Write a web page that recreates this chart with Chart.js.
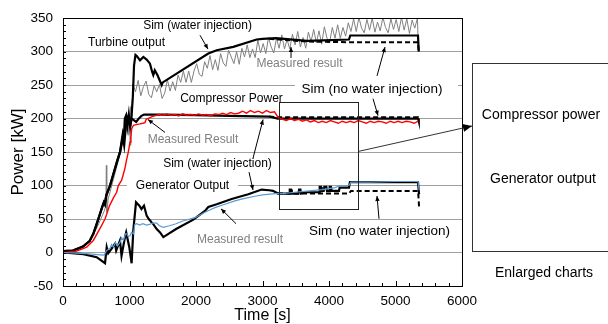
<!DOCTYPE html>
<html>
<head>
<meta charset="utf-8">
<script src="https://cdn.jsdelivr.net/npm/chart.js@4.4.1/dist/chart.umd.min.js"></script>
<style>
html, body { margin: 0; padding: 0; background: #fff; }
#wrap { width: 608px; height: 324px; }
</style>
</head>
<body>
<div id="wrap"><canvas id="power" width="608" height="324"></canvas></div>
<script>
// axis ticks
const xTicks = [0, 1000, 2000, 3000, 4000, 5000, 6000];
const yTicks = [-50, 0, 50, 100, 150, 200, 250, 300, 350];

// turbine output [time s, power kW]
const turbineSimWater = [[0,2],[150,3],[300,9],[400,17],[456,28],[531,50],[590,68],[615,75],[630,72],[650,85],[707,100],[760,118],[810,135],[857,150],[880,162],[900,172],[920,160],[940,182],[960,203],[985,198],[1010,190],[1030,203],[1050,232],[1068,279],[1090,295],[1113,293],[1158,287],[1208,292],[1258,288],[1308,282],[1340,270],[1358,265],[1380,272],[1420,265],[1484,250],[1500,254],[2185,297],[2311,302],[2561,307],[2912,318],[3000,319],[3200,320],[3670,316],[4300,318],[4320,324],[5338,324],[5350,300]];
const turbineSimDry = [[3100,319],[3250,318],[3670,315],[4300,314],[5338,314],[5350,298]];
const turbineMeasStart = [[0,0],[100,1],[200,3],[300,8],[400,18],[500,35],[560,48],[620,62],[645,70],[652,130],[658,60],[680,80],[720,95],[760,110],[800,125],[840,140],[870,150],[900,165],[930,175],[960,185],[980,175],[1000,200],[1010,160],[1020,218],[1035,195]];
// noisy part, sampled every 40 s from 1050 s
const turbineMeasFrom = 1050, turbineMeasStep = 40;
const turbineMeasNoisy = [
  252,240,257,234,248,256,236,231,249,240,
  251,230,238,258,241,255,242,265,254,271,
  254,271,254,271,282,266,263,285,275,294,
  273,288,272,297,283,278,302,292,282,300,
  281,305,292,310,291,304,291,317,298,312,
  297,321,307,298,320,305,325,304,318,304,
  326,310,330,307,321,305,329,315,333,313,
  331,311,337,320,314,336,320,340,320,336,
  323,343,330,349,330,351,335,328,348,332,
  350,329,344,331,351,336,328,349,333,348,
  330,351,332,349,327,347,335,350
];
const turbineMeasEnd = [[5345,300]];

// compressor power
const compSimWater = [[0,2],[150,3],[300,9],[400,17],[456,28],[531,50],[590,68],[615,75],[630,72],[650,85],[707,100],[760,118],[810,135],[857,150],[880,165],[900,178],[915,172],[930,200],[950,205],[970,190],[990,206],[1010,188],[1030,200],[1060,198],[1100,195],[1140,200],[1180,204],[1220,206],[1500,206],[2000,205],[2500,204],[3100,203],[3230,200],[5340,200],[5350,196]];
const compSimDry = [[3100,203],[3250,202],[5340,202],[5350,199]];
const compMeasStart = [[0,0],[55,0],[206,2],[356,8],[456,18],[557,36],[632,50],[657,57],[700,70],[760,82],[807,90],[832,100],[882,108],[930,125],[957,139],[982,150],[1008,165],[1020,172],[1033,185],[1060,190],[1100,191],[1158,192],[1200,193],[1233,194],[1250,199],[1300,201],[1340,203]];
// noisy part, sampled every 60 s from 1380 s
const compMeasFrom = 1380, compMeasStep = 60;
const compMeasNoisy = [
  204,206,205,207,205,206,204,207,205,206,
  205,207,205,206,204,207,206,208,206,209,
  207,208,211,208,212,209,211,208,212,209,
  210,201,199,197,200,197,199,196,198,195,
  197,194,196,194,197,195,193,196,194,196,
  194,197,195,193,196,194,196,195,193,196,
  194,196,194,196,195,193,196
];

// generator output
const genSimWater = [[0,0],[306,-2.5],[506,-7],[632,-16],[657,8],[680,-1],[732,6],[782,13],[800,3],[857,18],[880,-5],[932,23],[950,30],[997,8],[1032,-16],[1057,33],[1098,75],[1148,70],[1180,65],[1218,70],[1258,55],[1290,50],[1333,45],[1360,42],[1409,35],[1459,30],[1509,23],[1700,35],[1960,49],[2135,62],[2185,68],[2311,72],[2536,80],[2786,87],[2987,94],[3100,93],[3158,92],[3233,88],[3400,88],[3410,94],[3430,94],[3440,88],[3540,88],[3550,94],[3570,94],[3580,88],[3650,90],[3850,90],[3860,98],[3880,98],[3890,92],[3920,92],[3930,98],[3960,98],[3970,92],[4000,92],[4010,98],[4030,98],[4040,92],[4150,92],[4160,97],[4300,97],[4315,105],[5338,105],[5355,87]];
const genSimDry = [[3233,88],[4300,88],[4330,92],[5340,92],[5355,67]];
const genMeas = [[0,0],[200,-1],[400,-2],[556,-3.5],[620,-4],[650,2],[680,5],[707,6],[730,12],[757,8],[790,15],[820,10],[857,15],[880,22],[910,18],[940,28],[957,28],[980,24],[1008,25],[1030,30],[1060,28],[1080,42],[1108,43],[1150,41],[1200,43],[1258,41],[1300,42],[1350,44],[1409,44],[1450,40],[1509,37.5],[1600,40],[1700,43],[1800,47],[1985,52],[2135,60],[2200,63],[2286,67],[2400,71],[2586,77],[2700,80],[2887,84],[3000,86],[3188,88],[3300,88],[3489,90],[3700,92],[3900,94],[4090,97],[4150,99],[4300,100],[4330,105],[4600,105],[5000,106],[5340,106],[5355,93]];

// annotations: text, time, power, colour, font size
const labels = [
  ['Sim (water injection)', 2023, 339, '#000', 12],
  ['Turbine output', 955, 313, '#000', 12],
  ['Measured result', 3556, 281.5, '#808080', 12],
  ['Sim (no water injection)', 4647, 244.4, '#000', 13.5],
  ['Compressor Power', 2534, 229.6, '#000', 12],
  ['Measured Result', 1955, 169, '#808080', 12],
  ['Sim (water injection)', 2323, 131.9, '#000', 12],
  ['Generator Output', 1797, 99.3, '#000', 12],
  ['Measured result', 2662, 19.3, '#808080', 12],
  ['Sim (no water injection)', 4759, 31.1, '#000', 13.5]
];
// white boxes behind labels that sit on grid lines [t1, t2, v1, v2]
const labelBoxes = [[3489, 5940, 234, 254], [962, 2632, 89, 110]];
// arrows [t1, v1, t2, v2]
const arrows = [
  [2060,324.4,2180,303.7],[3429,290.4,3429,306.7],[4722,263.7,4842,306.7],
  [4662,229.6,4737,204.4],[1534,179.3,1278,198.5],[2857,140.7,3008,198.5],
  [2797,120,2857,93.3],[2602,43,2376,65.2],[4752,50.4,4722,84.4]
];
const zoomBox = [3250, 4435, 65, 224];

const FONT = '"Liberation Sans", Arial, sans-serif';
const toXY = arr => arr.map(p => ({x: p[0], y: p[1]}));
const sampled = (from, step, vals) => vals.map((v, i) => [from + i * step, v]);

const turbineMeas = turbineMeasStart.concat(sampled(turbineMeasFrom, turbineMeasStep, turbineMeasNoisy), turbineMeasEnd);
const compMeas = compMeasStart.concat(sampled(compMeasFrom, compMeasStep, compMeasNoisy));

function line(data, color, width, order, dash) {
  return {
    data: toXY(data), borderColor: color, borderWidth: width, order: order,
    borderDash: dash || [], pointRadius: 0, fill: false, tension: 0
  };
}

function drawArrow(ctx, x1, y1, x2, y2, head, half) {
  ctx.beginPath();
  ctx.moveTo(x1, y1);
  ctx.lineTo(x2, y2);
  ctx.stroke();
  const a = Math.atan2(y2 - y1, x2 - x1);
  const bx = x2 - head * Math.cos(a), by = y2 - head * Math.sin(a);
  ctx.beginPath();
  ctx.moveTo(x2, y2);
  ctx.lineTo(bx + half * Math.sin(a), by - half * Math.cos(a));
  ctx.lineTo(bx - half * Math.sin(a), by + half * Math.cos(a));
  ctx.closePath();
  ctx.fill();
}

const decor = {
  id: 'decor',
  beforeDatasetsDraw(chart) {
    const {ctx, scales: {x, y}} = chart;
    ctx.save();
    ctx.fillStyle = '#fff';
    labelBoxes.forEach(b => {
      const x1 = x.getPixelForValue(b[0]), x2 = x.getPixelForValue(b[1]);
      const y1 = y.getPixelForValue(b[3]), y2 = y.getPixelForValue(b[2]);
      ctx.fillRect(x1, y1, x2 - x1, y2 - y1);
    });
    ctx.restore();
  },
  afterDatasetsDraw(chart) {
    const {ctx, chartArea: a, scales: {x, y}} = chart;
    ctx.save();
    // labels
    ctx.textAlign = 'center';
    ctx.textBaseline = 'middle';
    labels.forEach(l => {
      ctx.font = l[4] + 'px ' + FONT;
      ctx.fillStyle = l[3];
      ctx.fillText(l[0], x.getPixelForValue(l[1]), y.getPixelForValue(l[2]));
    });
    // small arrows
    ctx.strokeStyle = '#000';
    ctx.fillStyle = '#000';
    ctx.lineWidth = 1;
    arrows.forEach(r => {
      drawArrow(ctx, x.getPixelForValue(r[0]), y.getPixelForValue(r[1]),
        x.getPixelForValue(r[2]), y.getPixelForValue(r[3]), 5, 2.2);
    });
    // zoom rectangle
    const zx1 = Math.round(x.getPixelForValue(zoomBox[0])) + 0.5;
    const zx2 = Math.round(x.getPixelForValue(zoomBox[1])) + 0.5;
    const zy1 = Math.round(y.getPixelForValue(zoomBox[3])) + 0.5;
    const zy2 = Math.round(y.getPixelForValue(zoomBox[2])) + 0.5;
    ctx.strokeStyle = '#222';
    ctx.strokeRect(zx1, zy1, zx2 - zx1, zy2 - zy1);
    ctx.restore();

    // minor tick marks, inside the frame
    ctx.save();
    ctx.strokeStyle = '#000';
    ctx.lineWidth = 1;
    ctx.beginPath();
    for (let t = 0; t <= 6000; t += 200) {
      const xx = Math.round(x.getPixelForValue(t)) + 0.5;
      ctx.moveTo(xx, a.bottom);
      ctx.lineTo(xx, a.bottom - (t % 1000 === 0 ? 5 : 3));
    }
    for (let v = -50; v <= 350; v += 10) {
      const yy = Math.round(y.getPixelForValue(v)) + 0.5;
      ctx.moveTo(a.left, yy);
      ctx.lineTo(a.left + 3, yy);
    }
    ctx.stroke();
    ctx.strokeRect(Math.round(a.left) + 0.5, Math.round(a.top) + 0.5,
      Math.round(a.right - a.left), Math.round(a.bottom - a.top));
    ctx.restore();
  },
  afterDraw(chart) {
    const {ctx, scales: {x, y}} = chart;
    ctx.save();
    ctx.strokeStyle = '#333';
    ctx.fillStyle = '#000';
    ctx.lineWidth = 1;
    // enlarged charts panel (cut by the right edge)
    ctx.strokeRect(472.5, 63.5, 150, 188);
    const zx2 = Math.round(x.getPixelForValue(zoomBox[1])) + 0.5;
    drawArrow(ctx, zx2, y.getPixelForValue(151), 472, 126, 9, 4);
    ctx.font = '14px ' + FONT;
    ctx.textAlign = 'center';
    ctx.textBaseline = 'middle';
    ctx.fillText('Compressor power', 541, 115);
    ctx.fillText('Generator output', 543, 179);
    ctx.fillText('Enlarged charts', 544, 273);
    ctx.restore();
  }
};

new Chart(document.getElementById('power'), {
  type: 'line',
  data: {
    datasets: [
      line(genMeas, '#5b9bd5', 1.2, 0),
      line(compMeas, '#ff0000', 1.4, 0),
      line(genSimDry, '#000', 2, 1, [5, 3]),
      line(compSimDry, '#000', 2, 1, [5, 3]),
      line(turbineSimDry, '#000', 2, 1, [5, 3]),
      line(genSimWater, '#000', 2.2, 1),
      line(compSimWater, '#000', 2.2, 1),
      line(turbineSimWater, '#000', 2.2, 1),
      line(turbineMeas, '#808080', 1, 2)
    ]
  },
  options: {
    responsive: false,
    animation: false,
    events: [],
    layout: { padding: { left: 0, top: 16, right: 146, bottom: 0 } },
    plugins: { legend: { display: false }, tooltip: { enabled: false } },
    scales: {
      x: {
        type: 'linear', min: 0, max: 6000,
        afterBuildTicks: s => { s.ticks = xTicks.map(v => ({value: v})); },
        afterFit: s => { s.height = 38; },
        grid: { display: false, drawTicks: false },
        border: { display: false },
        ticks: { color: '#000', padding: 7, maxRotation: 0, callback: v => String(v),
          font: { family: FONT, size: 13.5 } },
        title: { display: true, text: 'Time [s]', color: '#000', padding: { top: 0, bottom: 0 },
          font: { family: FONT, size: 16, lineHeight: 1 } }
      },
      y: {
        type: 'linear', min: -50, max: 350,
        afterBuildTicks: s => { s.ticks = yTicks.map(v => ({value: v})); },
        afterFit: s => { s.width = 63; },
        grid: { color: '#a0a0a0', lineWidth: 1, drawTicks: false },
        border: { display: false },
        ticks: { color: '#000', padding: 10, callback: v => String(v),
          font: { family: FONT, size: 13.5 } },
        title: { display: true, text: 'Power [kW]', color: '#000', padding: { top: 10, bottom: 0 },
          font: { family: FONT, size: 17, lineHeight: 1 } }
      }
    }
  },
  plugins: [decor]
});
</script>
</body>
</html>
